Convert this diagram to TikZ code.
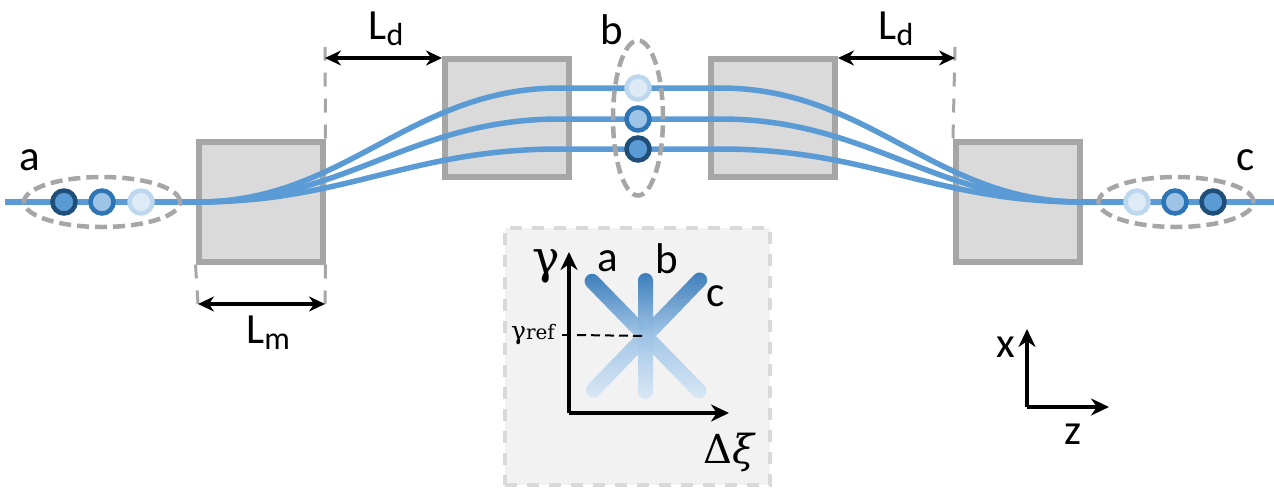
\documentclass[tikz,border=0pt]{standalone}
\usepackage{fontspec}
\setmainfont{Carlito}
\newfontfamily\mathserif{DejaVu Serif}
\usetikzlibrary{arrows.meta, positioning, shapes.geometric, shapes.misc}
\definecolor{cbeam}{HTML}{5B9BD5}
\definecolor{cdark}{HTML}{1F4E79}
\definecolor{cmid}{HTML}{2E75B6}
\definecolor{cmidfill}{HTML}{9DC3E6}
\definecolor{clight}{HTML}{BDD7EE}
\definecolor{clightfill}{HTML}{DEEBF7}
\definecolor{cwall}{HTML}{A6A6A6}
\definecolor{cbox}{HTML}{DADADA}
\definecolor{cinset}{HTML}{F2F2F2}
\definecolor{cinsetline}{HTML}{D9D9D9}
\newcommand{\lowtext}[1]{\raisebox{-6pt}{\fontsize{32}{34}\selectfont #1}}

\begin{document}
\begin{tikzpicture}[
  x=1pt, y=-1pt,
  font=\fontsize{43}{46}\selectfont,
  box/.style={draw=cwall, fill=cbox, line width=6pt, minimum width=124pt, minimum height=120pt, inner sep=0pt},
  beam/.style={draw=cbeam, line width=5.5pt},
  bunch/.style={draw=cwall, ellipse, line width=4.5pt, dash pattern=on 12pt off 6pt, inner sep=0pt},
  dotdark/.style={circle, draw=cdark, fill=cbeam, line width=4.5pt, minimum size=23pt, inner sep=0pt},
  dotmid/.style={circle, draw=cmid, fill=cmidfill, line width=4.5pt, minimum size=23pt, inner sep=0pt},
  dotlight/.style={circle, draw=clight, fill=clightfill, line width=4.5pt, minimum size=23pt, inner sep=0pt},
  dim/.style={{Stealth[length=16pt,width=15pt]}-{Stealth[length=16pt,width=15pt]}, line width=4pt},
  guide/.style={draw=cwall, line width=3pt, dash pattern=on 14pt off 12pt},
  axis/.style={-{Stealth[length=18pt,width=17pt]}, line width=4.5pt},
  lobe/.style={rounded rectangle, minimum width=168pt, minimum height=15pt, inner sep=0pt, opacity=0.92, top color=cmid, bottom color=clightfill!80!clight, middle color=cmidfill},
  ]
\useasboundingbox (0,0) rectangle (1274,488);
% magnets
\node[box] (m1) at (260.5,201.5) {};
\node[box, minimum height=118pt] (m2) at (507,117.5) {};
\node[box, minimum height=118pt] (m3) at (773,117.5) {};
\node[box] (m4) at (1018,201.5) {};
% beam paths
\coordinate (in) at (5,202);
\coordinate (out) at (1274,202);
\coordinate (join1) at (198,202);
\coordinate (join2) at (1082,202);
\coordinate (top) at (638,88);
\coordinate (mid) at (638,119);
\coordinate (low) at (638,149);
\draw[beam] (in) -- (join1);
\draw[beam] (join2) -- (out);
\draw[beam] (join1) .. controls (345,202) and (410,88) .. (560,88) -- (top);
\draw[beam] (join1) .. controls (345,202) and (410,119) .. (560,119) -- (mid);
\draw[beam] (join1) .. controls (345,202) and (410,149) .. (560,149) -- (low);
\draw[beam] (join2) .. controls (935,202) and (870,88) .. (720,88) -- (top);
\draw[beam] (join2) .. controls (935,202) and (870,119) .. (720,119) -- (mid);
\draw[beam] (join2) .. controls (935,202) and (870,149) .. (720,149) -- (low);
% bunches
\node[bunch, minimum width=156pt, minimum height=50pt] (bunchA) at (102,202) {};
\node[bunch, minimum width=50pt, minimum height=155pt] (bunchB) at (638,118) {};
\node[bunch, minimum width=155pt, minimum height=50pt] (bunchC) at (1176,202) {};
\node[dotdark] (a1) at (64,202) {};
\node[dotmid] (a2) at (102,202) {};
\node[dotlight] (a3) at (141,202) {};
\node[dotlight] (b1) at (top) {};
\node[dotmid] (b2) at (mid) {};
\node[dotdark] (b3) at (low) {};
\node[dotlight] (c1) at (1137,202) {};
\node[dotmid] (c2) at (1175,202) {};
\node[dotdark] (c3) at (1213,202) {};
\node (labA) at (30,160) {a};
\node (labB) at (612,30) {b};
\node (labC) at (1246,160) {c};
% lengths
\coordinate (ld1a) at (325,58);
\coordinate (ld1b) at (442,58);
\coordinate (ld2a) at (838,58);
\coordinate (ld2b) at (955,58);
\coordinate (ld1t) at (325,47);
\coordinate (ld2t) at (955,47);
\coordinate (lm1a) at (198,304);
\coordinate (lm1b) at (325,304);
\draw[guide] (m1.north east) -- (ld1t);
\draw[guide] (m4.north west) -- (ld2t);
\draw[guide] (m1.south west) -- (lm1a);
\draw[guide] (m1.south east) -- (lm1b);
\draw[dim] (ld1a) -- (ld1b);
\draw[dim] (ld2a) -- (ld2b);
\draw[dim] (lm1a) -- (lm1b);
\node (ldA) at (386,29) {L\lowtext{d}};
\node (ldB) at (896,29) {L\lowtext{d}};
\node (lmA) at (268,333) {L\lowtext{m}};
% inset
\node[draw=cinsetline, fill=cinset, line width=4pt, dash pattern=on 12pt off 10pt, minimum width=265pt, minimum height=257pt] (inset) at (637.5,356.5) {};
\coordinate (org) at (569,413);
\coordinate (gamTip) at (569,252);
\coordinate (xiTip) at (729,413);
\node[lobe, rotate=-45.7] (lobeA) at (645.5,336) {};
\node[lobe, rotate=90, minimum width=126pt] (lobeB) at (645.5,336) {};
\node[lobe, rotate=46] (lobeC) at (646.5,335) {};
\draw[axis] (org) -- (gamTip);
\draw[axis] (org) -- (xiTip);
\coordinate (refA) at (562,335);
\coordinate (refB) at (569,335);
\draw[line width=2pt] (refA) -- (refB);
\coordinate (refC) at (577,335);
\draw[line width=2pt, dash pattern=on 9pt off 5pt] (refC) -- (lobeA.center);
\node[font=\fontsize{46}{50}\mathserif] (gam) at (546,266) {γ};
\node[font=\fontsize{25}{28}\mathserif] (gamRef) at (533,335) {γ{\fontsize{20}{24}\selectfont ref}};
\node[font=\fontsize{40}{44}\mathserif] (xi) at (730,452) {Δ\textit{ξ}};
\node (insA) at (608,261) {a};
\node (insB) at (667,259) {b};
\node (insC) at (716,296) {c};
% frame
\coordinate (frame) at (1027,407);
\coordinate (xTip) at (1027,329);
\coordinate (zTip) at (1109,407);
\draw[axis] (frame) -- (xTip);
\draw[axis] (frame) -- (zTip);
\node (labX) at (1006,347) {x};
\node (labZ) at (1073,434) {z};
\end{tikzpicture}
\end{document}
